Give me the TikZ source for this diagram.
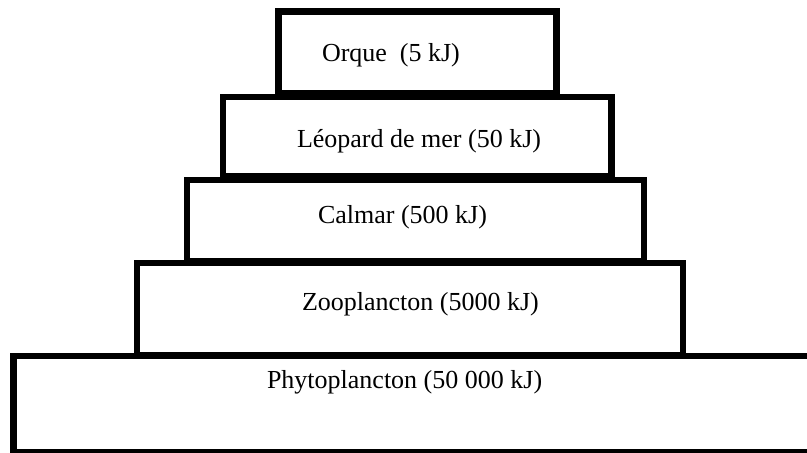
\documentclass[tikz,border=0pt]{standalone}
\usepackage{fontspec}
\setmainfont{Liberation Serif}
\begin{document}
\begin{tikzpicture}[x=1pt,y=-1pt,
  level/.style={draw=black, line width=6.5pt, rectangle, inner sep=0pt, outer sep=0pt},
  lbl/.style={anchor=base west, inner sep=0pt, outer sep=0pt, font=\fontsize{26}{30}\selectfont}]
\useasboundingbox (0,0) rectangle (807,453);
% levels (bottom to top)
\node[level, minimum width=816.5pt, minimum height=96pt] (phyto) at (421.75,404) {};
\node[level, minimum width=546pt, minimum height=92pt] (zoo) at (410,309) {};
\node[level, minimum width=457pt, minimum height=81pt] (calmar) at (415.5,220.5) {};
\node[level, minimum width=388.5pt, minimum height=79pt] (leopard) at (417.25,136.5) {};
\node[level, minimum width=278pt, minimum height=81.3pt] (orque) at (417.5,52.35) {};
% labels
\node[lbl] (torque) at (322,61) {Orque\ \ (5 kJ)};
\node[lbl] (tleopard) at (297,147) {Léopard de mer (50 kJ)};
\node[lbl] (tcalmar) at (318,223) {Calmar (500 kJ)};
\node[lbl] (tzoo) at (302,310) {Zooplancton (5000 kJ)};
\node[lbl] (tphyto) at (267,388) {Phytoplancton (50 000 kJ)};
\end{tikzpicture}
\end{document}
